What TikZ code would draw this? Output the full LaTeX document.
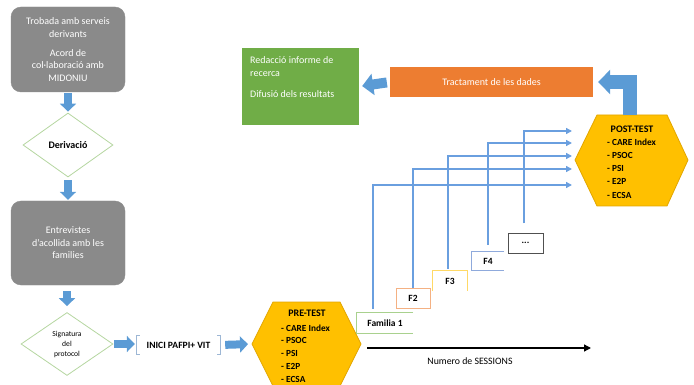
\documentclass[tikz,border=0pt]{standalone}
\usepackage{fontspec}
\setmainfont{Carlito}
\usetikzlibrary{arrows.meta,shapes.geometric,calc}
\definecolor{boxgray}{RGB}{138,138,138}
\definecolor{diagreen}{HTML}{B5D6A0}
\definecolor{arrowblue}{HTML}{5B9BD5}
\definecolor{lineblue}{HTML}{6A9FDF}
\definecolor{orangebox}{HTML}{ED7D31}
\definecolor{greenbox}{HTML}{70AD47}
\definecolor{hexfill}{HTML}{FFC000}
\definecolor{hexdraw}{HTML}{E2A600}
\definecolor{famgreen}{HTML}{A9D18E}
\definecolor{famorange}{HTML}{F4B183}
\definecolor{famyellow}{HTML}{FFD966}
\definecolor{famblue}{HTML}{8FAADC}
\definecolor{famdark}{HTML}{505050}
\definecolor{bracketc}{HTML}{9DB7D5}
\begin{document}
\begin{tikzpicture}[x=1pt,y=-1pt,
  graybox/.style={rounded corners=10pt, fill=boxgray, draw=boxgray, text=white,
    font=\fontsize{10}{12.5}\selectfont, align=center, inner sep=0pt},
  dia/.style={diamond, draw=diagreen, line width=0.8pt, fill=white, inner sep=0pt, align=center},
  barrow/.style={draw=arrowblue, line width=8pt, -{Triangle[width=16pt,length=8pt]}},
  bline/.style={draw=lineblue, line width=1.4pt, -{Triangle[width=6pt,length=6pt]}},
  hexa/.style={fill=hexfill, draw=hexdraw, line width=0.8pt},
  hexhead/.style={font=\bfseries\fontsize{10}{12}\selectfont, inner sep=0pt},
  hexlist/.style={font=\bfseries\fontsize{9.3}{12.8}\selectfont, align=left, inner sep=0pt, anchor=west},
  famtext/.style={font=\bfseries\fontsize{9.5}{11}\selectfont, inner sep=0pt},
  famline/.style={line width=1pt}
]
\useasboundingbox (0,0) rectangle (694,385);

% left column
\node[graybox, minimum width=114, minimum height=85] (b1) at (68,49.5)
  {Trobada amb serveis\\derivants\\[6.5pt]Acord de\\col·laboració amb\\MIDONIU};
\node[dia, minimum width=90, minimum height=64, font=\bfseries\fontsize{10}{12}\selectfont] (d1) at (68,145) {Derivació};
\node[graybox, minimum width=114, minimum height=84] (b2) at (68,243)
  {Entrevistes\\d'acollida amb les\\families};
\node[dia, minimum width=92, minimum height=63, font=\fontsize{7.6}{10}\selectfont] (d2) at (67,344) {Signatura\\del\\protocol};

\draw[barrow, shorten <=1pt, shorten >=1pt] (b1.south) -- (d1.north);
\draw[barrow, shorten <=3pt, shorten >=1pt] (d1.south) -- (b2.north);
\draw[barrow, shorten <=6pt, shorten >=6pt] (b2.south -| d2.north) -- (d2.north);

% INICI
\node[font=\bfseries\fontsize{9.6}{11}\selectfont, minimum width=83, minimum height=19, inner sep=0pt] (inici) at (178.5,345) {INICI PAFPI+ VIT};
\draw[bracketc, line width=0.8pt] ($(inici.north west)+(3,0)$) -- (inici.north west) -- (inici.south west) -- ($(inici.south west)+(3,0)$);
\draw[bracketc, line width=0.8pt] ($(inici.north east)+(-3,0)$) -- (inici.north east) -- (inici.south east) -- ($(inici.south east)+(-3,0)$);
\draw[barrow, shorten <=1pt, shorten >=2pt] (d2.east) -- (inici.west |- d2.east);

% PRE-TEST hexagon
\coordinate (preL) at (252,344);
\draw[hexa] (preL) -- (273,302) -- (340,302) -- (361,344) -- (340,386) -- (273,386) -- cycle;
\node[hexhead] (prehead) at (307,313) {PRE-TEST};
\node[hexlist] (prelist) at (281,353.5) {- CARE Index\\- PSOC\\- PSI\\- E2P\\- ECSA};
\draw[barrow, shorten <=5pt, shorten >=4pt] (inici.east) -- (preL);

% POST-TEST hexagon
\coordinate (postL) at (575,160);
\coordinate (postT) at (629.5,115);
\draw[hexa] (postL) -- (597,115) -- (667,115) -- (688,160) -- (667,206) -- (597,206) -- cycle;
\node[hexhead] (posthead) at (632,129) {POST-TEST};
\node[hexlist, font=\bfseries\fontsize{9.3}{13.2}\selectfont] (postlist) at (607,168.5) {- CARE Index\\- PSOC\\- PSI\\- E2P\\- ECSA};

% top boxes
\node[fill=orangebox, minimum width=203, minimum height=30, inner sep=0pt, text=white,
  font=\fontsize{10}{12}\selectfont] (orange) at (491.5,82) {Tractament de les dades};
\node[fill=greenbox, minimum width=117, minimum height=77, inner sep=0pt] (green) at (300.5,86.5) {};
\node[anchor=north west, text=white, align=left, inner sep=0pt,
  font=\fontsize{10}{13}\selectfont] (greentext) at (250,56.5) {Redacció informe de\\recerca\\[8pt]Difusió dels resultats};

\draw[draw=arrowblue, line width=14pt, -{Triangle[width=24pt,length=12pt]}, shorten >=5pt] (postT) |- (orange.east);
\draw[draw=arrowblue, line width=10pt, -{Triangle[width=21pt,length=11pt]}, shorten <=3pt, shorten >=3pt] (orange.west) -- (green.east);

% family boxes
\node[famtext, minimum width=56, minimum height=20] (f1) at (385,323) {Familia 1};
\draw[famgreen, famline] (f1.north east) -- (f1.north west) -- (f1.south west) -- (f1.south east);
\node[famtext, minimum width=34, minimum height=20, draw=famorange, line width=1pt] (f2) at (413,298) {F2};
\node[famtext, minimum width=34, minimum height=20] (f3) at (450,281) {F3};
\draw[famyellow, famline] (f3.south west) -- (f3.north west) -- (f3.north east) -- (f3.south east);
\node[famtext, minimum width=32, minimum height=18] (f4) at (488,261) {F4};
\draw[famblue, famline] (f4.north east) -- (f4.north west) -- (f4.south west) -- (f4.south east);
\node[famtext, minimum width=35, minimum height=20, draw=famdark, line width=1pt] (f5) at (525.5,243) {...};

% lines to POST-TEST
\coordinate (t1) at (572,185);
\coordinate (t2) at (572,169);
\coordinate (t3) at (572,156);
\coordinate (t4) at (572,143);
\coordinate (t5) at (572,131);
\draw[bline] ($(f1.north west)+(16,-4)$) |- (t1);
\draw[bline] (f2.north) |- (t2);
\draw[bline] ($(f3.north)+(-2,-2)$) |- (t3);
\draw[bline] ($(f4.north)+(0,-7)$) |- (t4);
\draw[bline] ($(f5.north)+(-1.5,-9)$) |- (t5);

% sessions arrow
\coordinate (sA) at (367,348);
\coordinate (sB) at (591,348);
\draw[line width=1.3pt, -{Triangle[width=7pt,length=7pt]}] (sA) -- (sB);
\node[font=\fontsize{9.8}{11}\selectfont, inner sep=0pt] (sess) at (470,361) {Numero de SESSIONS};
\end{tikzpicture}
\end{document}
